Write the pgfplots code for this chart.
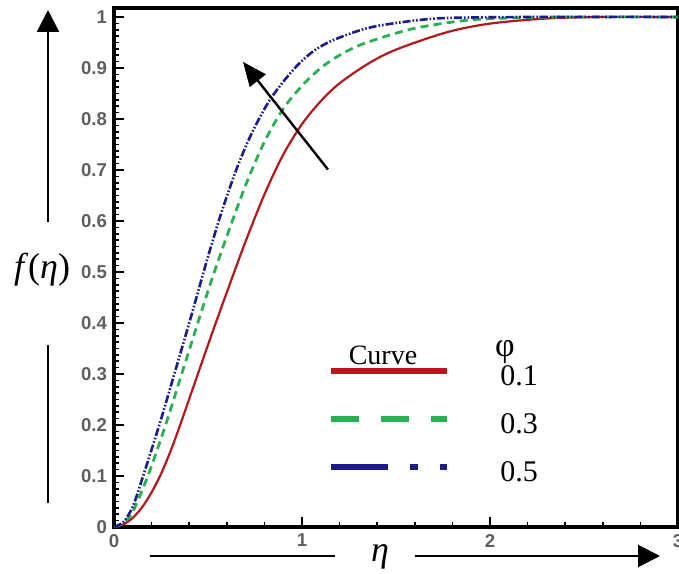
\documentclass[border=0pt]{standalone}
\usepackage{fontspec}
\setmainfont{Liberation Serif}
\newfontfamily\tickfont{Liberation Sans}
\usepackage{pgfplots}
\pgfplotsset{compat=1.18}
\usetikzlibrary{arrows.meta}
\definecolor{cred}{RGB}{178,24,28}
\definecolor{cgreen}{RGB}{40,176,82}
\definecolor{cblue}{RGB}{28,28,140}
\definecolor{tickgray}{RGB}{95,95,95}

\begin{document}
\begin{tikzpicture}
  \useasboundingbox (-57pt,-23pt) rectangle (282.5pt,263.5pt);
  \begin{axis}[
    at={(0,0)}, anchor=south west,
    scale only axis,
    width=282pt, height=259.6pt,
    xmin=0, xmax=3, ymin=0, ymax=1.018,
    xtick={0,1,2,3},
    ytick={0,0.1,0.2,0.3,0.4,0.5,0.6,0.7,0.8,0.9,1},
    yticklabels={0,0.1,0.2,0.3,0.4,0.5,0.6,0.7,0.8,0.9,1},
    xticklabels={0,1,2,3},
    minor x tick num=4, minor y tick num=7,
    xtick pos=bottom, ytick pos=left,
    tick align=inside,
    major tick length=5pt, minor tick length=2.5pt,
    every tick/.style={black, line width=0.8pt},
    axis line style={line width=2pt},
    tick label style={font=\tickfont\bfseries\fontsize{9.3}{11}\selectfont, text=tickgray},
    /pgf/number format/assume math mode=true,
    legend style={at={(axis description cs:0.3794,0.3189)}, anchor=north west,
      draw=none, fill=none, inner sep=0pt, row sep=8.5pt,
      font=\fontsize{15}{17}\selectfont},
    legend cell align=left,
  ]
    \addplot[cred, line width=1.1pt, smooth,
      legend image code/.code={
        \draw[cred, line width=3pt, solid] (0pt,3pt) -- (58pt,3pt);
        \path[draw=none] (0pt,0pt) -- (82.5pt,0pt);}]
      coordinates {(0,0)(0.05,0.005)(0.1,0.018)(0.15,0.039)(0.2,0.068)(0.25,0.104)(0.3,0.148)
        (0.35,0.198)(0.43,0.283)(0.52,0.378)(0.6,0.46)(0.7,0.56)(0.8,0.652)(0.9,0.73)(1.0,0.79)
        (1.1,0.835)(1.2,0.87)(1.35,0.908)(1.5,0.936)(1.77,0.97)(2.0,0.987)(2.3,0.997)(2.6,1)(3,1)};
    \addlegendentry{0.1}
    \addplot[cgreen, line width=1.4pt, smooth, dash pattern=on 4pt off 2.6pt,
      legend image code/.code={
        \draw[cgreen, line width=3pt, dash pattern=on 14pt off 11pt] (0pt,3pt) -- (58pt,3pt);
        \path[draw=none] (0pt,0pt) -- (82.5pt,0pt);}]
      coordinates {(0,0)(0.05,0.008)(0.1,0.03)(0.18,0.1)(0.27,0.195)(0.36,0.3)(0.45,0.405)
        (0.52,0.485)(0.6,0.57)(0.7,0.67)(0.8,0.755)(0.9,0.82)(1.0,0.865)(1.1,0.9)(1.2,0.925)
        (1.33,0.948)(1.59,0.977)(1.89,0.994)(2.2,0.999)(2.5,1)(3,1)};
    \addlegendentry{0.3}
    \addplot[cblue, line width=1.3pt, smooth,
      dash pattern=on 4pt off 1pt on 0.8pt off 1pt on 0.8pt off 1pt,
      legend image code/.code={
        \draw[cblue, line width=3pt,
          dash pattern=on 28.5pt off 11pt on 4pt off 11pt on 3.5pt off 11pt] (0pt,3pt) -- (58pt,3pt);
        \path[draw=none] (0pt,0pt) -- (82.5pt,0pt);}]
      coordinates {(0,0)(0.05,0.01)(0.1,0.04)(0.155,0.1)(0.245,0.205)(0.325,0.305)(0.4,0.4)
        (0.45,0.465)(0.5,0.53)(0.57,0.615)(0.65,0.7)(0.73,0.77)(0.83,0.838)(0.95,0.895)
        (1.05,0.93)(1.15,0.952)(1.3,0.973)(1.41,0.983)(1.6,0.993)(1.77,0.998)(2.2,1)(3,1)};
    \addlegendentry{0.5}
    \draw[line width=1.2pt, -{Triangle[length=12pt,width=10pt]}]
      (axis cs:1.138,0.701) -- (axis cs:0.686,0.912);
  \end{axis}
  \node[font=\fontsize{14}{16}\selectfont] at (134.5pt,86pt) {Curve};
  \node[font=\fontsize{17}{19}\selectfont, inner sep=0pt] at (195.5pt,87.5pt) {φ};
  \draw[line width=1.2pt, -{Triangle[length=11pt,width=11pt]}] (-33pt,152.5pt) -- (-33pt,258.5pt);
  \draw[line width=1.2pt] (-33pt,12pt) -- (-33pt,91pt);
  \draw[line width=1.2pt] (18pt,-14.5pt) -- (110.5pt,-14.5pt);
  \draw[line width=1.2pt, -{Triangle[length=11pt,width=11pt]}] (150.5pt,-14.5pt) -- (273pt,-14.5pt);
  \node[font=\fontsize{18}{20}\selectfont] at (-36pt,128.5pt) {\textit{f}(\textit{η})};
  \node[font=\fontsize{18}{20}\selectfont\itshape] at (133pt,-15pt) {η};
\end{tikzpicture}
\end{document}
